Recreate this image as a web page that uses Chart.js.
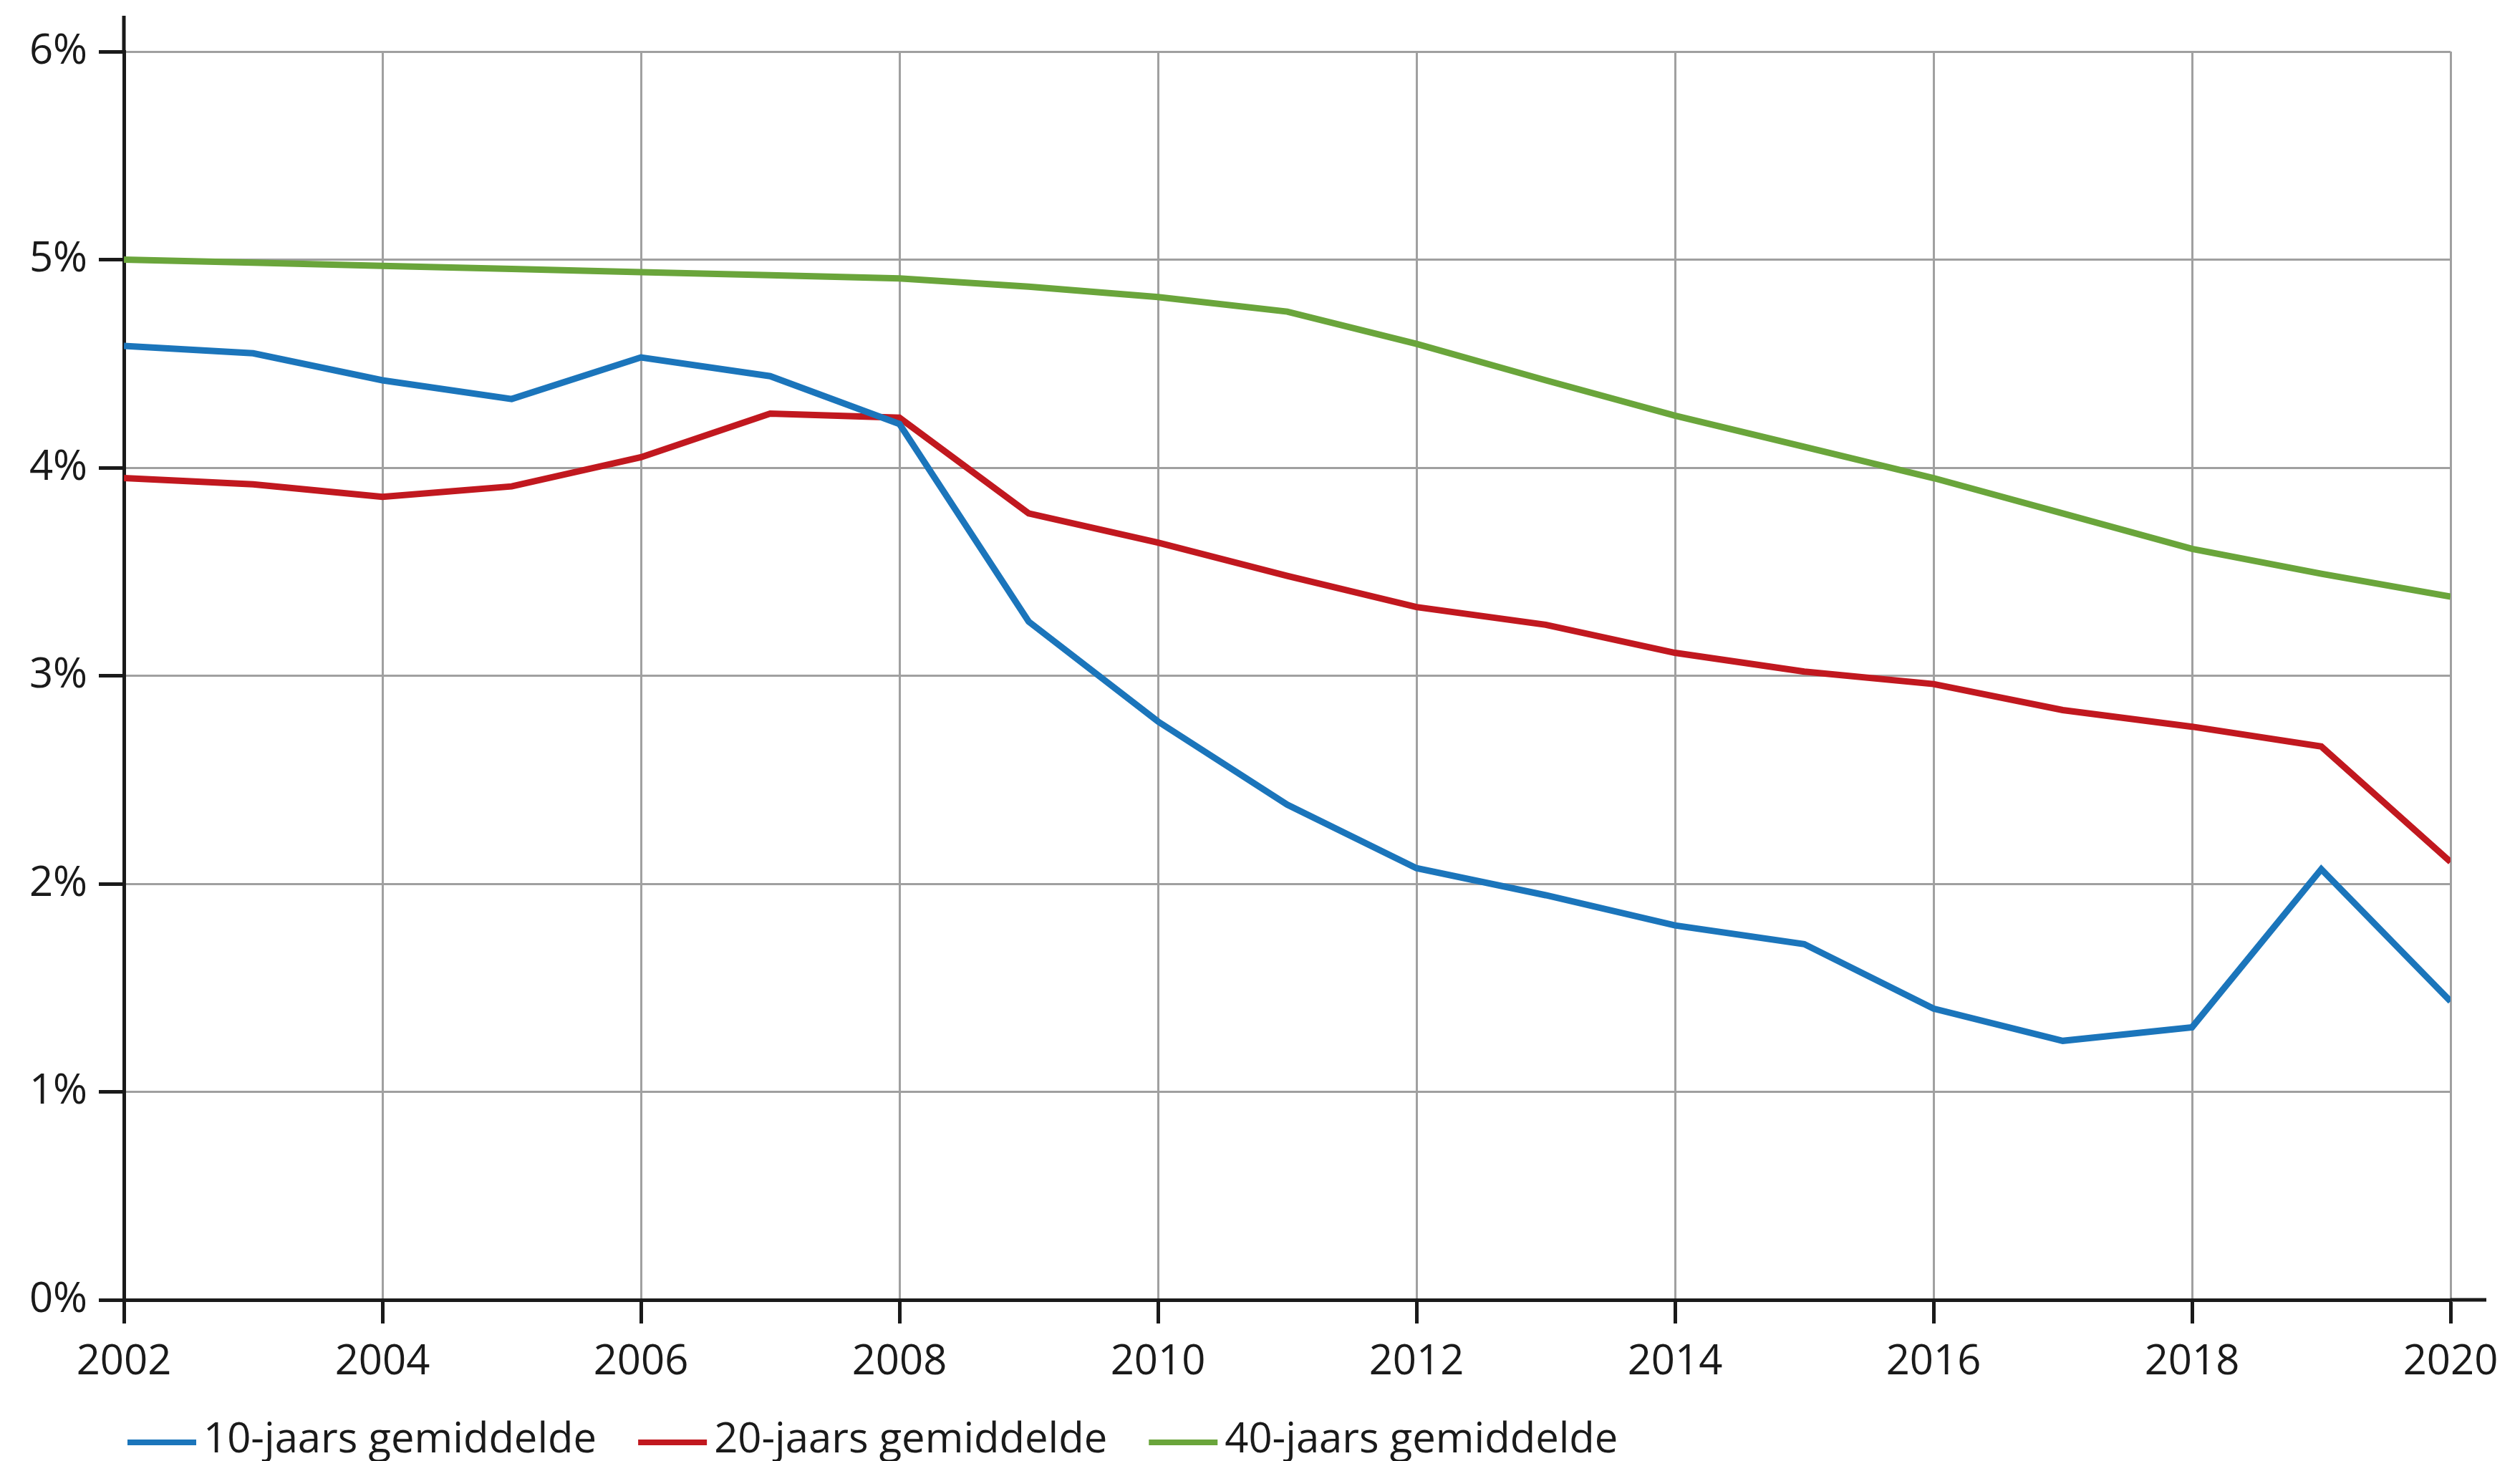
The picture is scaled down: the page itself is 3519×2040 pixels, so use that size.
<!DOCTYPE html>
<html lang="nl">
<head>
  <meta charset="UTF-8">
  <title>Gemiddelde rente</title>
  <style>
    body { margin: 0; background: #fff; }
    canvas { display: block; }
  </style>
</head>
<body>

<canvas id="renteChart" width="3519" height="2040"></canvas>

<script src="https://cdn.jsdelivr.net/npm/chart.js"></script>
<script>
  // jaren en gemiddelden (in %)
  const years = [2002, 2003, 2004, 2005, 2006, 2007, 2008, 2009, 2010, 2011,
                 2012, 2013, 2014, 2015, 2016, 2017, 2018, 2019, 2020];
  const avg10 = [4.585, 4.55, 4.42, 4.33, 4.53, 4.44, 4.21, 3.26, 2.78, 2.38,
                 2.075, 1.945, 1.80, 1.71, 1.40, 1.245, 1.31, 2.07, 1.435];
  const avg20 = [3.95, 3.92, 3.86, 3.91, 4.05, 4.26, 4.24, 3.78, 3.64, 3.48,
                 3.33, 3.245, 3.11, 3.02, 2.96, 2.835, 2.755, 2.66, 2.105];
  const avg40 = [5.00, 4.985, 4.97, 4.955, 4.94, 4.925, 4.91, 4.87, 4.82, 4.75,
                 4.595, 4.42, 4.25, 4.10, 3.95, 3.78, 3.61, 3.49, 3.38];
  const seriesLabels = ['10-jaars gemiddelde', '20-jaars gemiddelde', '40-jaars gemiddelde'];
  const seriesColors = ['#1b75bb', '#c1181f', '#6aa53b'];

  const toPoints = values => values.map((v, i) => ({ x: years[i], y: v }));

  const FONT_SIZE = 58;
  Chart.defaults.font.family = "'Open Sans', sans-serif";
  Chart.defaults.font.size = FONT_SIZE;
  Chart.defaults.color = '#1a1a1a';

  // axis overshoot at the top of the y axis and right of the x axis
  const axisExtend = {
    id: 'axisExtend',
    afterDraw(chart) {
      const { ctx, chartArea } = chart;
      ctx.save();
      ctx.strokeStyle = '#1a1a1a';
      ctx.lineWidth = 5;
      ctx.beginPath();
      ctx.moveTo(chartArea.left, chartArea.top - 50);
      ctx.lineTo(chartArea.left, chartArea.top);
      ctx.moveTo(chartArea.right, chartArea.bottom);
      ctx.lineTo(chartArea.right + 50, chartArea.bottom);
      ctx.stroke();
      ctx.restore();
    }
  };

  // legend below the axis, left-aligned with the y axis
  const bottomLegend = {
    id: 'bottomLegend',
    afterDraw(chart) {
      const { ctx, chartArea } = chart;
      let x = chartArea.left + 5;
      const y = chart.height - 12;
      ctx.save();
      ctx.font = FONT_SIZE + "px 'Open Sans', sans-serif";
      ctx.textBaseline = 'alphabetic';
      chart.data.datasets.forEach(ds => {
        ctx.strokeStyle = ds.borderColor;
        ctx.lineWidth = 8;
        ctx.beginPath();
        ctx.moveTo(x, y - 14);
        ctx.lineTo(x + 96, y - 14);
        ctx.stroke();
        ctx.fillStyle = '#1a1a1a';
        ctx.fillText(ds.label, x + 106, y);
        x += 106 + ctx.measureText(ds.label).width + 58;
      });
      ctx.restore();
    }
  };

  const ctx = document.getElementById('renteChart').getContext('2d');
  new Chart(ctx, {
    type: 'line',
    data: {
      datasets: [avg10, avg20, avg40].map((values, i) => ({
        label: seriesLabels[i],
        data: toPoints(values),
        borderColor: seriesColors[i],
        backgroundColor: seriesColors[i],
        borderWidth: 9,
        pointRadius: 0,
        tension: 0,
        fill: false
      }))
    },
    options: {
      responsive: false,
      animation: false,
      events: [],
      layout: { padding: { left: 0, right: 97, top: 72, bottom: 100 } },
      plugins: {
        legend: { display: false },
        tooltip: { enabled: false }
      },
      scales: {
        x: {
          type: 'linear',
          min: 2002,
          max: 2020,
          afterFit(scale) { scale.height = 125; },
          border: { display: true, color: '#1a1a1a', width: 5 },
          grid: {
            color: '#a0a0a0',
            lineWidth: 3,
            tickColor: '#1a1a1a',
            tickWidth: 5,
            tickLength: 33
          },
          ticks: {
            stepSize: 2,
            padding: 20,
            maxRotation: 0,
            callback: v => String(v)
          }
        },
        y: {
          min: 0,
          max: 6,
          afterFit(scale) { scale.width = 173; },
          border: { display: true, color: '#1a1a1a', width: 5 },
          grid: {
            color: '#a0a0a0',
            lineWidth: 3,
            tickColor: '#1a1a1a',
            tickWidth: 5,
            tickLength: 35
          },
          ticks: {
            stepSize: 1,
            padding: 16,
            callback: v => v + '%'
          }
        }
      }
    },
    plugins: [axisExtend, bottomLegend]
  });
</script>

</body>
</html>
